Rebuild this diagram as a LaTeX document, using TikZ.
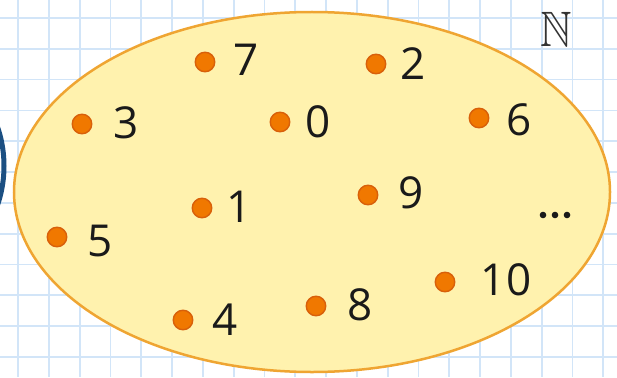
\documentclass[tikz,border=0pt]{standalone}
\usepackage{amssymb}
\usepackage{fontspec}
\setmainfont{Open Sans}
\definecolor{gridblue}{HTML}{D2E5F8}
\definecolor{ellfill}{HTML}{FFF2AE}
\definecolor{elldraw}{HTML}{EFA532}
\definecolor{dotfill}{HTML}{F07800}
\definecolor{dotdraw}{HTML}{D8600A}
\definecolor{darkblue}{HTML}{1B4F82}
\definecolor{txt}{HTML}{1A1A1A}
\tikzset{
  elem/.style={circle, fill=dotfill, draw=dotdraw, line width=1.4pt, minimum size=19.5pt, inner sep=0pt},
  num/.style={inner sep=0pt, text=txt, font=\fontsize{44}{44}\selectfont}
}
\begin{document}
\begin{tikzpicture}[x=1pt,y=-1pt]
\useasboundingbox (0,0) rectangle (617,377);
\clip (0,0) rectangle (617,377);
\fill[white] (0,0) rectangle (617,377);
\foreach \i in {0,...,20} {
  \draw[gridblue, line width=1.8pt] ({18+30.8*\i},0) -- ({18+30.8*\i},377);
}
\foreach \j in {0,...,12} {
  \draw[gridblue, line width=1.8pt] (0,{18+30.8*\j}) -- (617,{18+30.8*\j});
}
\draw[darkblue, line width=5pt] (-116,166) circle[radius=120];
\draw[elldraw, fill=ellfill, line width=2.5pt] (312,192) ellipse[x radius=298, y radius=180];
\node[inner sep=0pt, text=black!80, font=\fontsize{24.88}{25}\selectfont] (N) at (556,29) {\scalebox{1.75}[2.0]{$\mathbb{N}$}};
\node[elem] (d7) at (205,62) {};  \node[num] (l7) at (246,60) {7};
\node[elem] (d2) at (376,64) {};  \node[num] (l2) at (413,64) {2};
\node[elem] (d3) at (82,124) {};  \node[num] (l3) at (126,123) {3};
\node[elem] (d0) at (280,122) {}; \node[num] (l0) at (318,122) {0};
\node[elem] (d6) at (479,118) {}; \node[num] (l6) at (519,120) {6};
\node[elem] (d1) at (202,208) {}; \node[num] (l1) at (239,207) {1};
\node[elem] (d9) at (368,195) {}; \node[num] (l9) at (411,193) {9};
\node[elem] (d5) at (57,237) {};  \node[num] (l5) at (100,241) {5};
\node[elem] (d10) at (445,282) {}; \node[num] (l10) at (506,280) {10};
\node[elem] (d8) at (316,306) {}; \node[num] (l8) at (360,305) {8};
\node[elem] (d4) at (183,320) {}; \node[num] (l4) at (225,320) {4};
\foreach \x [count=\k] in {543,555,567} {
  \fill[txt] (\x,215) circle[radius=3.3];
}
\end{tikzpicture}
\end{document}
